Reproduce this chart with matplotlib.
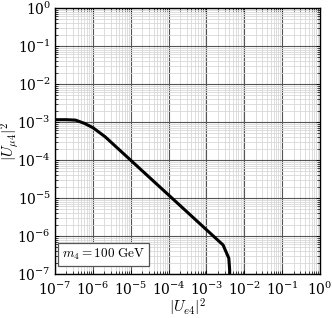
import numpy as np
import matplotlib
matplotlib.use("Agg")
import matplotlib.pyplot as plt
from matplotlib.ticker import LogLocator, LogFormatterMathtext, NullFormatter

plt.rcParams['mathtext.fontset'] = 'cm'
plt.rcParams['font.family'] = 'serif'
plt.rcParams['font.serif'] = ['DejaVu Serif']

# curve
ue4 = [1e-7, 2e-7, 3.5e-7, 6e-7, 1e-6, 2.1e-6, 2.75e-3, 3.9e-3, 4.1e-3, 4.1e-3]
umu4 = [1.15e-3, 1.15e-3, 1.12e-3, 9.2e-4, 7.1e-4, 4.1e-4, 5.8e-7, 2.6e-7, 1.3e-7, 1e-7]

label_text = r'$m_4 = 100\ \mathrm{GeV}$'

fig = plt.figure(figsize=(3.32, 3.18), dpi=100)
ax = fig.add_axes([0.1657, 0.1384, 0.7982, 0.8364])

ax.set_xscale('log')
ax.set_yscale('log')
ax.set_xlim(1e-7, 1)
ax.set_ylim(1e-7, 1)

for axis in (ax.xaxis, ax.yaxis):
    axis.set_major_locator(LogLocator(base=10, numticks=20))
    axis.set_minor_locator(LogLocator(base=10, subs=np.arange(2, 10), numticks=20))
    axis.set_major_formatter(LogFormatterMathtext())
    axis.set_minor_formatter(NullFormatter())

ax.grid(which='major', color='#555555', lw=0.8)
ax.grid(which='minor', color='#d8d8d8', lw=0.6)
ax.set_axisbelow(True)

ax.tick_params(which='both', direction='in', top=True, right=True, labelsize=10)
ax.tick_params(axis='x', pad=5)
ax.tick_params(axis='y', pad=3)
ax.tick_params(which='major', length=3, width=0.6)
ax.tick_params(which='minor', length=2, width=0.5)
for s in ax.spines.values():
    s.set_linewidth(1.0)

ax.plot(ue4, umu4, color='black', lw=2.2, solid_joinstyle='round')

ax.set_xlabel(r'$|U_{e4}|^2$', fontsize=11)
ax.set_ylabel(r'$|U_{\mu 4}|^2$', fontsize=11)
ax.xaxis.set_label_coords(0.5, -0.085)
ax.yaxis.set_label_coords(-0.128, 0.5)

ax.text(0.025, 0.045, label_text, transform=ax.transAxes, fontsize=9.5,
        ha='left', va='bottom',
        bbox=dict(boxstyle='square,pad=0.3', fc='white', ec='#555555', lw=0.9))

fig.savefig('out.png', dpi=100)
